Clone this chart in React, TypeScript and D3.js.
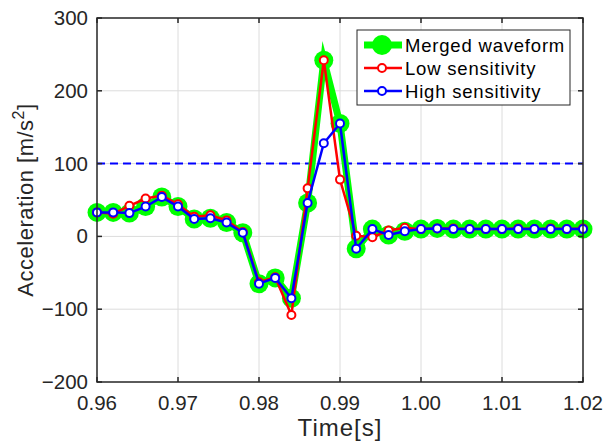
import { useEffect, useRef } from "react";
import * as d3 from "d3";

// sample times [s]
const times = d3.range(31).map((i) => +(0.96 + i * 0.002).toFixed(3));

const lowSensitivity = [
  33, 31, 42, 52, 56, 44, 27, 29, 22, 6,
  -63, -56, -108, 66, 242, 78, 1, -1, 8, 12,
  10, 11, 11, 10, 10, 10, 11, 10, 11, 10, 11,
];

const highSensitivity = [
  33, 33, 32, 41, 54, 41, 24, 25, 19, 5,
  -65, -57, -85, 46, 128, 155, -17, 10, 2, 7,
  10, 11, 10, 10, 10, 10, 10, 10, 10, 10, 10,
];

const mergedWaveform = [
  33, 33, 32, 41, 54, 41, 24, 25, 19, 5,
  -65, -57, -85, 46, 242, 155, -17, 10, 2, 7,
  10, 11, 10, 10, 10, 10, 10, 10, 10, 10, 10,
];

const threshold = 100;
const xTicks = [0.96, 0.97, 0.98, 0.99, 1.0, 1.01, 1.02];
const yTicks = [-200, -100, 0, 100, 200, 300];
const legendLabels = ["Merged waveform", "Low sensitivity", "High sensitivity"];

export default function App() {
  const svgRef = useRef<SVGSVGElement>(null);

  useEffect(() => {
    const svg = d3.select(svgRef.current);
    svg.selectAll("*").remove();

    const width = 606;
    const height = 441;
    const margin = { top: 18, right: 23, bottom: 59, left: 97 };
    const font = "'Liberation Sans', Arial, sans-serif";

    svg.attr("width", width).attr("height", height);

    const x = d3.scaleLinear().domain([0.96, 1.02]).range([margin.left, width - margin.right]);
    const y = d3.scaleLinear().domain([-200, 300]).range([height - margin.bottom, margin.top]);

    const x0 = margin.left;
    const x1 = width - margin.right;
    const y0 = height - margin.bottom;
    const y1 = margin.top;

    svg.append("rect").attr("width", width).attr("height", height).attr("fill", "#fff");

    // grid
    const grid = svg.append("g").attr("stroke", "#dcdcdc").attr("stroke-width", 1);
    xTicks.slice(1, -1).forEach((t) => {
      grid.append("line").attr("x1", x(t)).attr("x2", x(t)).attr("y1", y0).attr("y2", y1);
    });
    yTicks.slice(1, -1).forEach((t) => {
      grid.append("line").attr("x1", x0).attr("x2", x1).attr("y1", y(t)).attr("y2", y(t));
    });

    // threshold
    svg.append("line")
      .attr("x1", x0).attr("x2", x1)
      .attr("y1", y(threshold)).attr("y2", y(threshold))
      .attr("stroke", "#0000ff").attr("stroke-width", 2)
      .attr("stroke-dasharray", "8,5");

    const line = d3.line<number>().x((_, i) => x(times[i])).y((d) => y(d));

    // merged
    svg.append("path").datum(mergedWaveform)
      .attr("d", line).attr("fill", "none")
      .attr("stroke", "#00ff00").attr("stroke-width", 7)
      .attr("stroke-linejoin", "miter").attr("stroke-miterlimit", 10);
    svg.append("g").selectAll("circle").data(mergedWaveform).join("circle")
      .attr("cx", (_, i) => x(times[i])).attr("cy", (d) => y(d))
      .attr("r", 9.5).attr("fill", "#00ff00");

    const drawSeries = (vals: number[], color: string) => {
      svg.append("path").datum(vals)
        .attr("d", line).attr("fill", "none")
        .attr("stroke", color).attr("stroke-width", 2.5);
      svg.append("g").selectAll("circle").data(vals).join("circle")
        .attr("cx", (_, i) => x(times[i])).attr("cy", (d) => y(d))
        .attr("r", 4).attr("fill", "#fff")
        .attr("stroke", color).attr("stroke-width", 2);
    };
    drawSeries(lowSensitivity, "#ff0000");
    drawSeries(highSensitivity, "#0000ff");

    // axes box
    svg.append("rect")
      .attr("x", x0).attr("y", y1).attr("width", x1 - x0).attr("height", y0 - y1)
      .attr("fill", "none").attr("stroke", "#262626").attr("stroke-width", 1.5);

    const ticks = svg.append("g").attr("stroke", "#262626").attr("stroke-width", 1.5);
    xTicks.forEach((t) => {
      ticks.append("line").attr("x1", x(t)).attr("x2", x(t)).attr("y1", y0).attr("y2", y0 - 5);
      ticks.append("line").attr("x1", x(t)).attr("x2", x(t)).attr("y1", y1).attr("y2", y1 + 5);
    });
    yTicks.forEach((t) => {
      ticks.append("line").attr("x1", x0).attr("x2", x0 + 5).attr("y1", y(t)).attr("y2", y(t));
      ticks.append("line").attr("x1", x1).attr("x2", x1 - 5).attr("y1", y(t)).attr("y2", y(t));
    });

    const labels = svg.append("g").attr("font-family", font).attr("fill", "#262626").attr("font-size", 20.5);
    xTicks.forEach((t) => {
      labels.append("text").attr("x", x(t)).attr("y", y0 + 28)
        .attr("text-anchor", "middle").text(t.toFixed(2));
    });
    yTicks.forEach((t) => {
      labels.append("text").attr("x", x0 - 9).attr("y", y(t) + 7)
        .attr("text-anchor", "end").text(t < 0 ? "\u2212" + Math.abs(t) : String(t));
    });

    labels.append("text")
      .attr("x", (x0 + x1) / 2).attr("y", height - 5)
      .attr("text-anchor", "middle").attr("font-size", 24)
      .attr("letter-spacing", 1).text("Time[s]");

    const yl = labels.append("text")
      .attr("transform", `translate(33,${(y0 + y1) / 2}) rotate(-90)`)
      .attr("text-anchor", "middle").attr("font-size", 22).attr("letter-spacing", 0.5);
    yl.append("tspan").text("Acceleration [m/s");
    yl.append("tspan").attr("font-size", 16).attr("dy", -9).text("2");
    yl.append("tspan").attr("dy", 9).text("]");

    // legend
    const lg = svg.append("g").attr("transform", "translate(357,30)");
    lg.append("rect").attr("width", 213).attr("height", 75)
      .attr("fill", "#fff").attr("stroke", "#262626").attr("stroke-width", 1);
    const colors = ["#00ff00", "#ff0000", "#0000ff"];
    legendLabels.forEach((lab, i) => {
      const ly = 15 + i * 23;
      if (i === 0) {
        lg.append("line").attr("x1", 7).attr("x2", 45).attr("y1", ly).attr("y2", ly)
          .attr("stroke", colors[i]).attr("stroke-width", 7);
        lg.append("circle").attr("cx", 25).attr("cy", ly).attr("r", 10).attr("fill", colors[i]);
      } else {
        lg.append("line").attr("x1", 7).attr("x2", 45).attr("y1", ly).attr("y2", ly)
          .attr("stroke", colors[i]).attr("stroke-width", 2.5);
        lg.append("circle").attr("cx", 25).attr("cy", ly).attr("r", 4)
          .attr("fill", "#fff").attr("stroke", colors[i]).attr("stroke-width", 2);
      }
      lg.append("text").attr("x", 48).attr("y", ly + 7)
        .attr("font-family", font).attr("font-size", 18.5).attr("letter-spacing", 0.8)
        .attr("fill", "#000").text(lab);
    });
  }, []);

  return <svg ref={svgRef} style={{ position: "absolute", left: 0, top: 0 }} />;
}
